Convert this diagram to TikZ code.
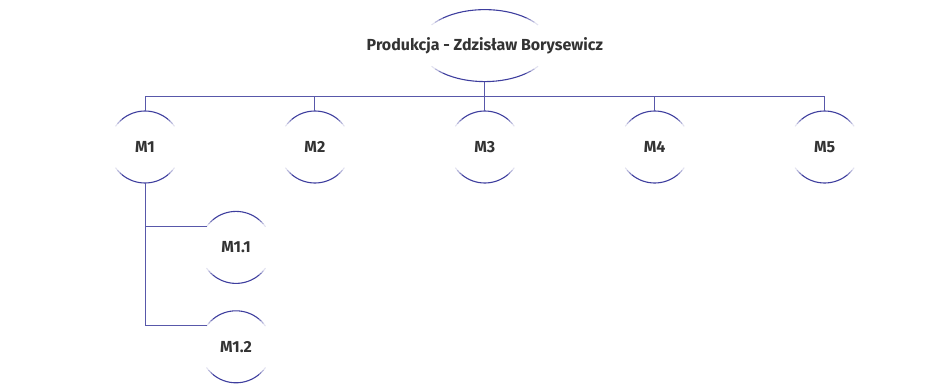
\documentclass[tikz,border=0pt]{standalone}
\usepackage{fontspec}
\setmainfont{Fira Sans}
\usetikzlibrary{positioning}
\definecolor{ringcol}{RGB}{62,62,158}
\definecolor{linkcol}{RGB}{88,88,170}
\definecolor{labelcol}{RGB}{51,51,51}

% top and bottom arcs of a ring round a node, fading at the ends
\newcommand{\halfring}[3]{%
  \foreach \a/\b/\p in {50/130/100, 45/50/70, 130/135/70, 40/45/40, 135/140/40, 35/40/15, 140/145/15}{
    \draw[ring, ringcol!\p!white] (#1.center) ++(\a:#2 and #3)
      arc[start angle=\a, end angle=\b, x radius=#2, y radius=#3];
    \draw[ring, ringcol!\p!white] (#1.center) ++(\a+180:#2 and #3)
      arc[start angle=\a+180, end angle=\b+180, x radius=#2, y radius=#3];
  }%
}

\begin{document}
\begin{tikzpicture}
    [every node/.style={font=\fontsize{16}{19}\selectfont\bfseries, text=labelcol, inner sep=0pt},
     unit/.style={circle, minimum size=72pt},
     ring/.style={line width=1.1pt},
     link/.style={draw=linkcol, line width=0.9pt}]
    \useasboundingbox (0,0) rectangle (947pt,-383pt);

    \node (m1) [unit] at (145pt,-147pt) {M1};
    \node (m2) [unit, right = 97.5pt of m1] {M2};
    \node (m3) [unit, right = 97.5pt of m2] {M3};
    \node (m4) [unit, right = 97.5pt of m3] {M4};
    \node (m5) [unit, right = 97.5pt of m4] {M5};
    \node (prod) [minimum height=72pt, above = 29pt of m3] {Produkcja - Zdzisław Borysewicz};
    \node (m11) [unit, below = 28pt of m1, xshift=91pt] {M1.1};
    \node (m12) [unit, below = 27pt of m11] {M1.2};

    \halfring{prod}{65pt}{36pt}
    \foreach \m in {m1,m2,m3,m4,m5,m11,m12}{\halfring{\m}{36pt}{36pt}}

    \draw[link] (prod.south) -- ++(0,-15pt) coordinate (bus);
    \foreach \m in {m1,m2,m3,m4,m5}
      \draw[link] (\m.north) |- (bus);
    \draw[link] (m1.south) |- (m12.144);
    \draw[link] (m1.south |- m11.144) -- (m11.144);

  \end{tikzpicture}
\end{document}
